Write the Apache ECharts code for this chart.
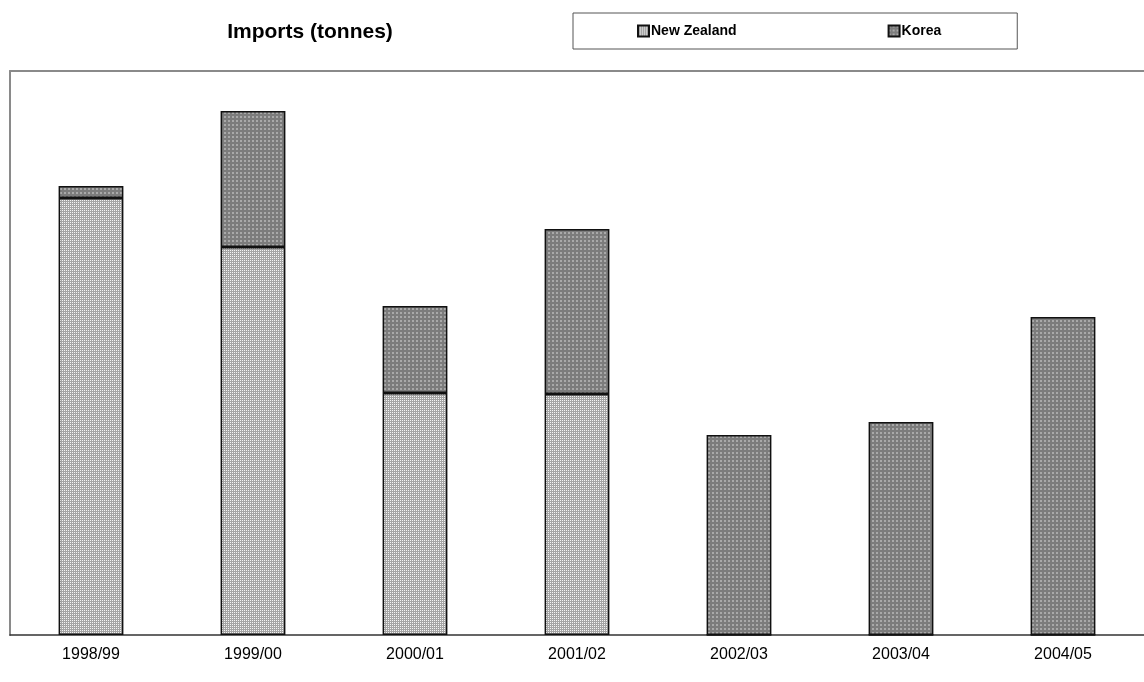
<!DOCTYPE html>
<html>
<head>
<meta charset="utf-8">
<script src="https://cdn.jsdelivr.net/npm/echarts@6/dist/echarts.min.js"></script>
<style>
  html, body { margin: 0; padding: 0; background: #fff; }
  #chart { width: 1144px; height: 682px; }
</style>
</head>
<body>
<div id="chart"></div>
<script>
// Seasons and import volumes (tonnes) by source country
const seasons = ['1998/99', '1999/00', '2000/01', '2001/02', '2002/03', '2003/04', '2004/05'];
const newZealand = [437, 388, 242, 241, 0, 0, 0];
const korea = [12, 136, 87, 165, 200, 213, 318];
const valueMax = 564;

// Dotted fill patterns for the two series
function makePattern(size, base, dot, cells) {
  const c = document.createElement('canvas');
  c.width = size; c.height = size;
  const g = c.getContext('2d');
  g.fillStyle = base;
  g.fillRect(0, 0, size, size);
  g.fillStyle = dot;
  cells.forEach(function (p) { g.fillRect(p[0], p[1], 1, 1); });
  return c;
}
const nzTile = makePattern(2, '#a4a4a4', '#f4f4f4', [[0, 0]]);
const koTile = makePattern(4, '#7c7c7c', '#a9a9a9', [[0, 0], [1, 0], [0, 1], [1, 1]]);

const frameLine = { show: true, lineStyle: { color: '#8a8a8a', width: 2 } };

const chart = echarts.init(document.getElementById('chart'), null, { renderer: 'canvas' });

chart.setOption({
  animation: false,
  title: {
    text: 'Imports (tonnes)',
    left: 305,
    top: 17,
    textAlign: 'center',
    textStyle: { fontFamily: 'Liberation Sans, Arial', fontWeight: 'bold', fontSize: 21, color: '#000' }
  },
  legend: {
    data: ['New Zealand', 'Korea'],
    left: 573,
    top: 13,
    padding: [11, 76, 11, 64],
    itemGap: 151,
    itemWidth: 11,
    itemHeight: 11,
    icon: 'rect',
    borderColor: '#555',
    borderWidth: 1,
    textStyle: { fontFamily: 'Liberation Sans, Arial', fontWeight: 'bold', fontSize: 14, color: '#000', padding: [0, 0, 0, -3] }
  },
  grid: {
    left: 10,
    right: 0,
    top: 71,
    bottom: 47
  },
  xAxis: [
    {
      type: 'category',
      data: seasons,
      axisLine: { lineStyle: { color: '#333', width: 1.5 } },
      axisTick: { show: false },
      axisLabel: { fontFamily: 'Liberation Sans, Arial', fontSize: 16, color: '#000', margin: 12 }
    },
    {
      type: 'category',
      data: seasons,
      position: 'top',
      axisLine: frameLine,
      axisTick: { show: false },
      axisLabel: { show: false }
    }
  ],
  yAxis: {
    type: 'value',
    min: 0,
    max: valueMax,
    axisLine: frameLine,
    axisTick: { show: false },
    axisLabel: { show: false },
    splitLine: { show: false }
  },
  series: [
    {
      name: 'New Zealand',
      type: 'bar',
      stack: 'total',
      barWidth: '40%',
      data: newZealand,
      itemStyle: { color: { image: nzTile, repeat: 'repeat' }, borderColor: '#111', borderWidth: 1.5 }
    },
    {
      name: 'Korea',
      type: 'bar',
      stack: 'total',
      barWidth: '40%',
      data: korea,
      itemStyle: { color: { image: koTile, repeat: 'repeat' }, borderColor: '#111', borderWidth: 1.5 }
    }
  ]
});
</script>
</body>
</html>
